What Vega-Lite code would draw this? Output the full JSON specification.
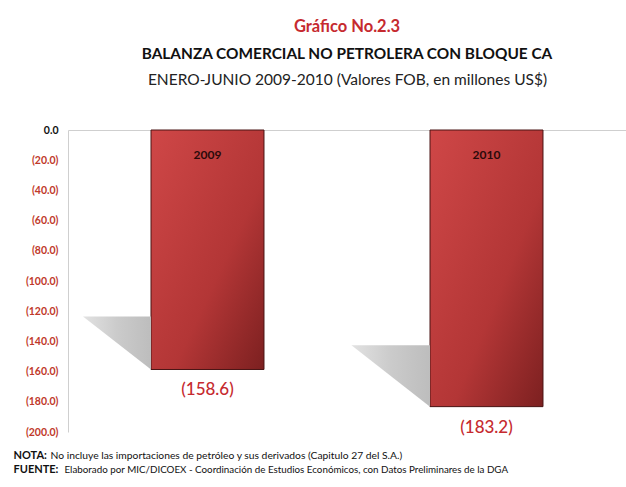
{
  "$schema": "https://vega.github.io/schema/vega-lite/v6.json",
  "width": 558,
  "height": 302,
  "autosize": {"type": "none"},
  "padding": {"left": 68, "top": 130, "right": 0, "bottom": 55},
  "background": "white",
  "config": {"font": "Lato", "view": {"stroke": null}},
  "title": {
    "text": "Gráfico No.2.3",
    "subtitle": "BALANZA COMERCIAL NO PETROLERA CON BLOQUE CA",
    "anchor": "middle",
    "color": "#c62a2f",
    "fontSize": 16.5,
    "fontWeight": "bold",
    "subtitleFontSize": 15.4,
    "subtitleFontWeight": "bold",
    "subtitleColor": "#111111",
    "subtitlePadding": 11,
    "offset": 10
  },
  "data": {"values": [
    {"year": "2009", "value": -158.6},
    {"year": "2010", "value": -183.2}
  ]},
  "layer": [
    {
      "mark": {
        "type": "bar",
        "width": {"band": 0.405},
        "fill": {"gradient": "linear", "x1": 0, "y1": 0, "x2": 1, "y2": 1, "stops": [
          {"offset": 0, "color": "#cf4747"},
          {"offset": 0.6, "color": "#b33636"},
          {"offset": 1, "color": "#7c2020"}
        ]},
        "stroke": "#4a1515",
        "strokeWidth": 1
      },
      "encoding": {
        "x": {"field": "year", "type": "nominal", "scale": {"paddingInner": 0, "paddingOuter": 0},
              "axis": {"orient": "top", "labels": false, "ticks": false, "domainColor": "#cfcfcf",
                       "title": "ENERO-JUNIO 2009-2010 (Valores FOB, en millones US$)",
                       "titleFontSize": 15.5, "titleFontWeight": "normal", "titleColor": "#222222",
                       "titlePadding": 43}},
        "y": {"field": "value", "type": "quantitative",
              "scale": {"domain": [-200, 0], "nice": false},
              "axis": {"values": [0, -20, -40, -60, -80, -100, -120, -140, -160, -180, -200],
                       "tickCount": 20,
                       "format": "(.1f", "grid": false, "ticks": false, "domainColor": "#cfcfcf",
                       "labelOverlap": false,
                       "labelColor": {"condition": {"test": "datum.value === 0", "value": "#111111"}, "value": "#c0392b"},
                       "labelFontWeight": "bold", "labelFontSize": 10.5, "labelPadding": 10, "title": null}}
      }
    },
    {
      "mark": {
        "type": "point",
        "shape": "M -2 -1.56 L 0 -1.56 L 0 0 Z",
        "filled": true,
        "fill": {"gradient": "linear", "x1": 0, "y1": 0, "x2": 1, "y2": 0, "stops": [
          {"offset": 0, "color": "#e2e2e2"},
          {"offset": 0.5, "color": "#cbcbcb"},
          {"offset": 1, "color": "#bdbdbd"}
        ]},
        "strokeWidth": 0,
        "opacity": 1,
        "xOffset": -56.5
      },
      "encoding": {
        "x": {"field": "year", "type": "nominal",
              "axis": {"orient": "bottom", "labels": false, "ticks": false, "domain": false,
                       "title": ["NOTA:", "FUENTE:"],
                       "titleAlign": "left", "titleAnchor": "start", "titleX": -55, "titleY": 23,
                       "titleBaseline": "middle", "titleFontSize": 11, "titleFontWeight": "bold",
                       "titleColor": "#111111", "titleLineHeight": 14}},
        "y": {"field": "value", "type": "quantitative"},
        "size": {"field": "value", "type": "quantitative", "legend": null,
                 "scale": {"type": "pow", "exponent": 2, "domain": [0, -200], "range": [0, 7353]}}
      }
    },
    {
      "mark": {"type": "text", "dy": 25, "fontWeight": "bold", "fontSize": 12, "color": "#2b0a0a", "baseline": "middle"},
      "encoding": {
        "x": {"field": "year", "type": "nominal",
              "axis": {"orient": "bottom", "labels": false, "ticks": false, "domain": false,
                       "title": "No incluye las importaciones de petróleo y sus derivados (Capitulo 27 del S.A.)",
                       "titleAlign": "left", "titleAnchor": "start", "titleX": -18, "titleY": 23,
                       "titleBaseline": "middle", "titleFontSize": 10.3, "titleFontWeight": "normal",
                       "titleColor": "#111111"}},
        "y": {"datum": 0, "type": "quantitative"},
        "text": {"field": "year"}
      }
    },
    {
      "mark": {"type": "text", "dy": 21, "fontSize": 17, "fontWeight": 500, "color": "#c62a2f", "baseline": "middle"},
      "encoding": {
        "x": {"field": "year", "type": "nominal",
              "axis": {"orient": "bottom", "labels": false, "ticks": false, "domain": false,
                       "title": "Elaborado por MIC/DICOEX - Coordinación de Estudios Económicos, con Datos Preliminares de la DGA",
                       "titleAlign": "left", "titleAnchor": "start", "titleX": -4, "titleY": 37,
                       "titleBaseline": "middle", "titleFontSize": 9.8, "titleFontWeight": "normal",
                       "titleColor": "#111111"}},
        "y": {"field": "value", "type": "quantitative"},
        "text": {"field": "value", "type": "quantitative", "format": "(.1f"}
      }
    }
  ],
  "resolve": {"axis": {"x": "independent"}}
}
